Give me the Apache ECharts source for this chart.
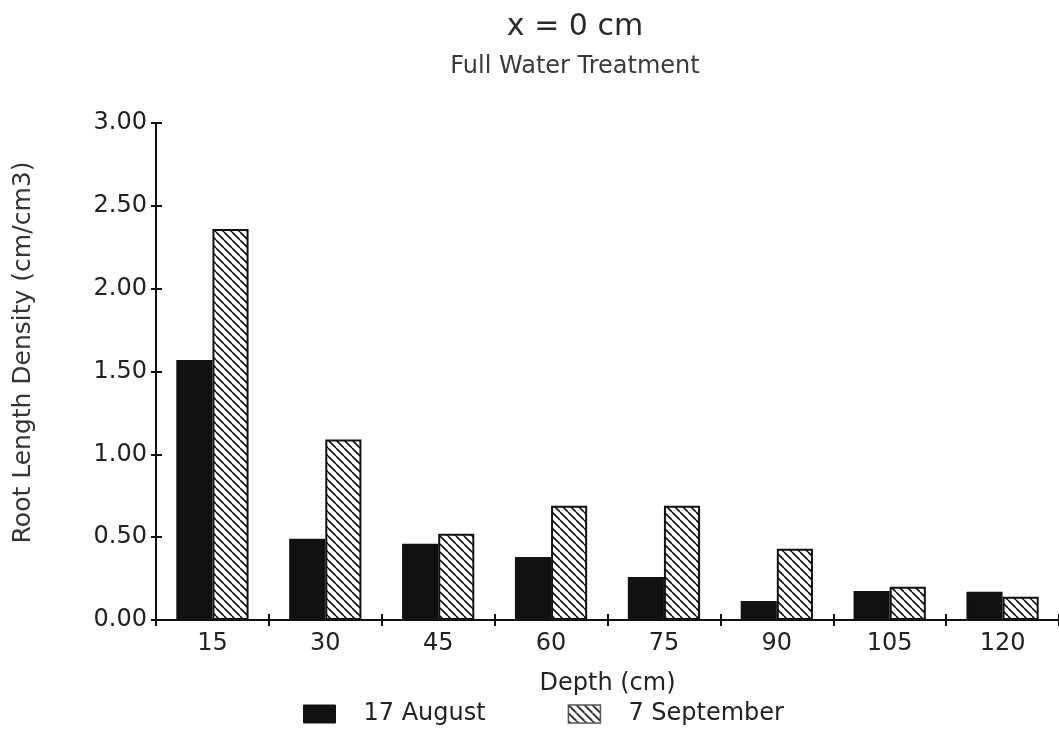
<!DOCTYPE html>
<html>
<head>
<meta charset="utf-8">
<script src="https://cdn.jsdelivr.net/npm/echarts@6/dist/echarts.min.js"></script>
<style>
  html, body { margin: 0; padding: 0; background: #fff; }
  #chart { width: 1059px; height: 730px; }
</style>
</head>
<body>
<div id="chart"></div>
<script>
// Root length density by soil depth, two sampling dates
const depths = ['15', '30', '45', '60', '75', '90', '105', '120'];
const august17 = [1.57, 0.49, 0.46, 0.38, 0.26, 0.115, 0.175, 0.17];
const september7 = [2.36, 1.09, 0.52, 0.69, 0.69, 0.43, 0.20, 0.14];
const yTicks = [0, 0.5, 1, 1.5, 2, 2.5, 3];

const FONT = 'DejaVu Sans';
const INK = '#222';

// Diagonal hatch tile (lines running top-left to bottom-right)
function hatchTile() {
  const s = 8;
  const c = document.createElement('canvas');
  c.width = s; c.height = s;
  const g = c.getContext('2d');
  g.fillStyle = '#fff';
  g.fillRect(0, 0, s, s);
  g.strokeStyle = '#111';
  g.lineWidth = 1.6;
  for (const k of [-s, 0, s]) {
    g.beginPath();
    g.moveTo(k, 0);
    g.lineTo(k + s, s);
    g.stroke();
  }
  return c;
}
const hatch = { image: hatchTile(), repeat: 'repeat' };

const chart = echarts.init(document.getElementById('chart'), null, { renderer: 'canvas' });

chart.setOption({
  backgroundColor: '#fff',
  animation: false,
  title: {
    text: 'x = 0 cm',
    subtext: 'Full Water Treatment',
    left: 570,
    top: 7,
    textAlign: 'center',
    itemGap: 13,
    textStyle: { fontFamily: FONT, fontSize: 30, fontWeight: 'normal', color: '#2a2a2a' },
    subtextStyle: { fontFamily: FONT, fontSize: 24, color: '#3a3a3a' }
  },
  legend: {
    left: 303,
    top: 702,
    padding: 0,
    itemWidth: 32,
    itemHeight: 18,
    itemGap: 82,
    textStyle: { fontFamily: FONT, fontSize: 24, color: INK, padding: [0, 0, 0, 23] },
    data: [
      { name: '17 August', icon: 'rect', itemStyle: { color: '#111', borderColor: '#111', borderWidth: 1 } },
      { name: '7 September', icon: 'rect', itemStyle: { color: hatch, borderColor: '#555', borderWidth: 1.5 } }
    ]
  },
  grid: { left: 156, top: 123, bottom: 110, right: -6 },
  xAxis: [
    {
      type: 'category',
      data: depths,
      name: 'Depth (cm)',
      nameLocation: 'middle',
      nameGap: 52,
      nameTextStyle: { fontFamily: FONT, fontSize: 24, color: INK },
      axisLine: { lineStyle: { color: '#111', width: 2 } },
      axisTick: { show: true, length: 6, alignWithLabel: false, lineStyle: { color: '#111', width: 2 } },
      axisLabel: { fontFamily: FONT, fontSize: 24, color: INK, margin: 12 },
      splitLine: { show: false }
    },
    {
      // inner half of the crossing tick marks
      type: 'category',
      data: depths,
      position: 'bottom',
      axisLine: { show: false },
      axisTick: { show: true, inside: true, length: 6, lineStyle: { color: '#111', width: 2 } },
      axisLabel: { show: false },
      splitLine: { show: false }
    }
  ],
  yAxis: [
    {
      type: 'value',
      min: yTicks[0],
      max: yTicks[yTicks.length - 1],
      interval: 0.5,
      name: 'Root Length Density (cm/cm3)',
      nameLocation: 'middle',
      nameGap: 120,
      nameTextStyle: { fontFamily: FONT, fontSize: 25, color: '#333', padding: [0, 0, 0, 38] },
      axisLine: { show: true, lineStyle: { color: '#111', width: 2 } },
      axisTick: { show: true, length: 5, lineStyle: { color: '#111', width: 2 } },
      axisLabel: {
        fontFamily: FONT, fontSize: 24, color: INK, margin: 9,
        formatter: v => v.toFixed(2)
      },
      splitLine: { show: false }
    },
    {
      type: 'value',
      min: yTicks[0],
      max: yTicks[yTicks.length - 1],
      interval: 0.5,
      position: 'left',
      axisLine: { show: false },
      axisTick: { show: true, inside: true, length: 6, lineStyle: { color: '#111', width: 2 } },
      axisLabel: { show: false },
      splitLine: { show: false }
    }
  ],
  series: [
    {
      name: '17 August',
      type: 'bar',
      data: august17,
      barWidth: '32%',
      barGap: '0%',
      itemStyle: { color: '#111', borderColor: '#111', borderWidth: 2 }
    },
    {
      name: '7 September',
      type: 'bar',
      data: september7,
      barWidth: '32%',
      barGap: '0%',
      itemStyle: { color: hatch, borderColor: '#111', borderWidth: 2 }
    }
  ]
});
</script>
</body>
</html>
